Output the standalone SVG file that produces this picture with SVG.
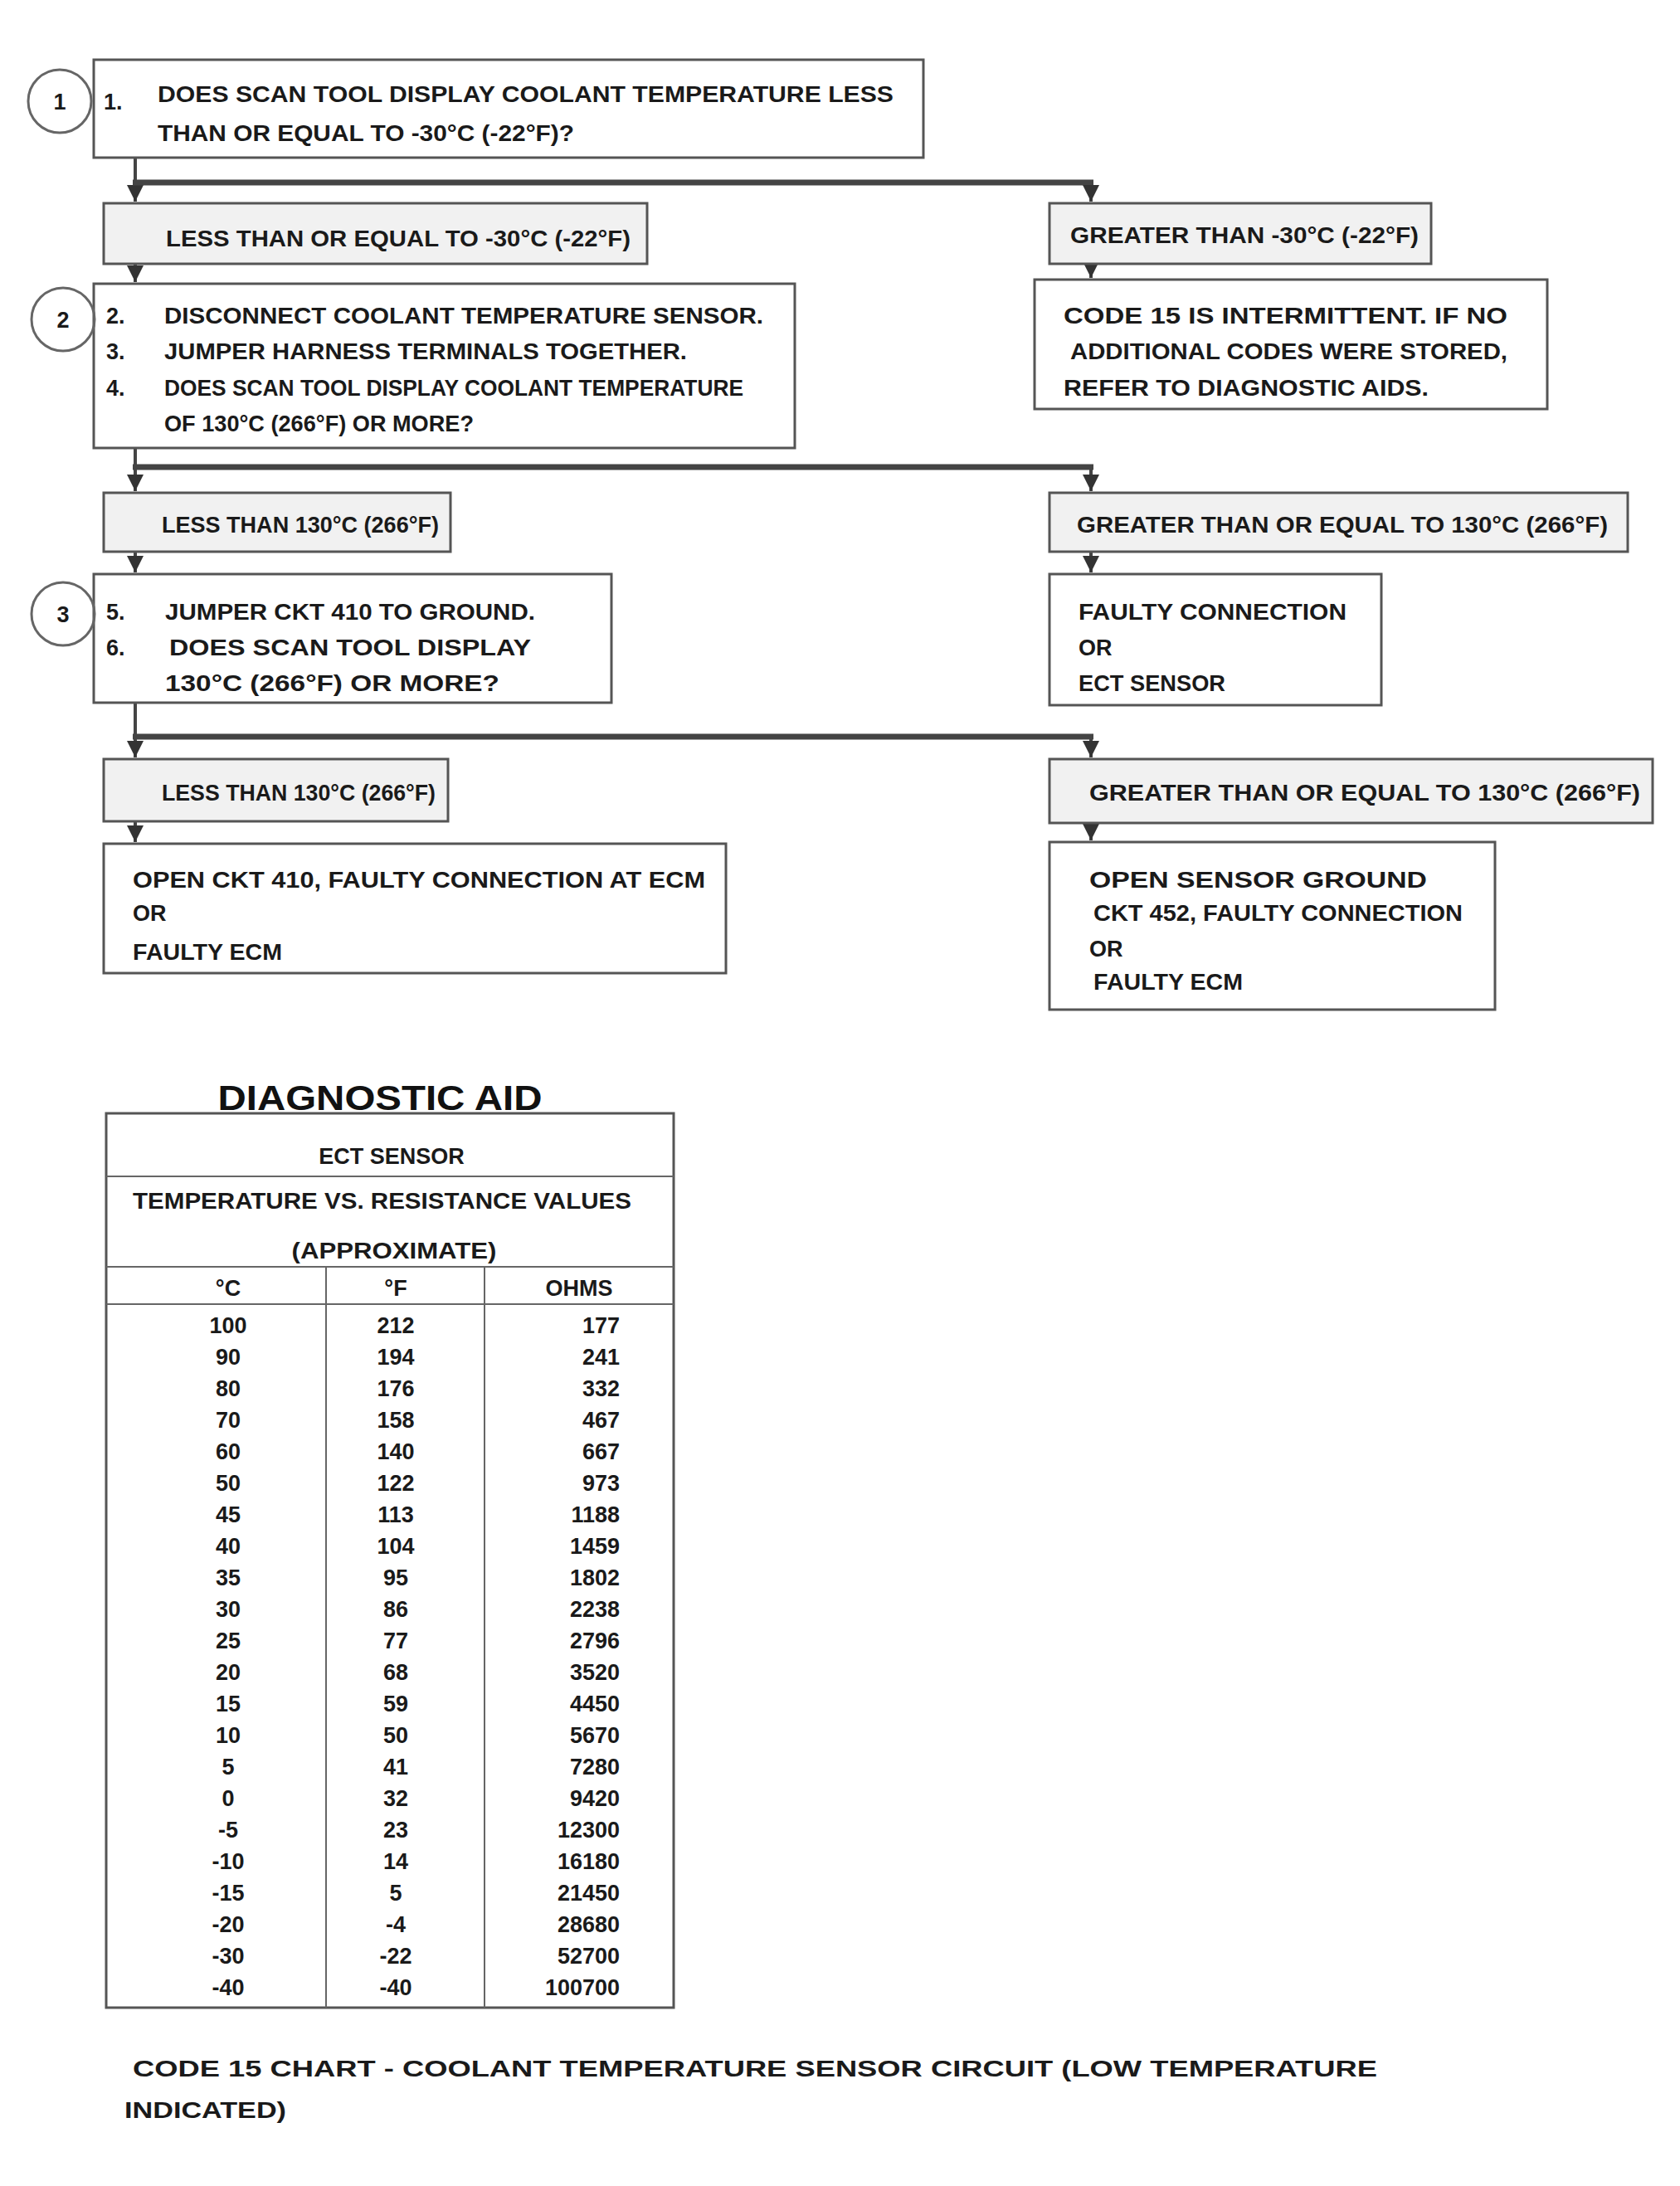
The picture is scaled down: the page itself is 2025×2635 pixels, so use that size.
<svg xmlns="http://www.w3.org/2000/svg" width="2025" height="2635" viewBox="0 0 2025 2635">
<defs>
<style>
.t{font-family:"Liberation Sans",Arial,sans-serif;font-size:27px;font-weight:bold;fill:#1a1a1a}
.ttl{font-family:"Liberation Sans",Arial,sans-serif;font-size:42px;font-weight:bold;fill:#111}
.box{fill:#fff;stroke:#555;stroke-width:3}
.lbl{fill:#f1f1f1;stroke:#555;stroke-width:3}
.circ{fill:none;stroke:#666;stroke-width:3}
.bar{fill:none;stroke:#444;stroke-width:7}
.lnk{fill:none;stroke:#444;stroke-width:4}
.tb{fill:#fff;stroke:#555;stroke-width:3}
.tl{stroke:#666;stroke-width:2}
.m{text-anchor:middle}
.e{text-anchor:end}
</style>
<marker id="ah" markerUnits="userSpaceOnUse" markerWidth="24" markerHeight="24" viewBox="0 0 24 24" refX="22" refY="12" orient="auto">
<path d="M2,2 L22,12 L2,22 Z" fill="#333"/>
</marker>
</defs>
<rect width="2025" height="2635" fill="#fff"/>

<g id="connectors">
<path class="lnk" d="M163,190 V243" marker-end="url(#ah)"/>
<path class="bar" d="M160,220 H1318"/>
<path class="lnk" d="M1315,220 V243" marker-end="url(#ah)"/>
<path class="lnk" d="M163,318 V340" marker-end="url(#ah)"/>
<path class="lnk" d="M1315,318 V335" marker-end="url(#ah)"/>

<path class="lnk" d="M163,540 V592" marker-end="url(#ah)"/>
<path class="bar" d="M160,563 H1318"/>
<path class="lnk" d="M1315,563 V592" marker-end="url(#ah)"/>
<path class="lnk" d="M163,665 V690" marker-end="url(#ah)"/>
<path class="lnk" d="M1315,665 V690" marker-end="url(#ah)"/>

<path class="lnk" d="M163,847 V913" marker-end="url(#ah)"/>
<path class="bar" d="M160,888 H1318"/>
<path class="lnk" d="M1315,888 V913" marker-end="url(#ah)"/>
<path class="lnk" d="M163,990 V1015" marker-end="url(#ah)"/>
<path class="lnk" d="M1315,992 V1013" marker-end="url(#ah)"/>
</g>

<g id="step1">
<rect class="box" x="113" y="72" width="1000" height="118"/>
<circle class="circ" cx="72" cy="122" r="38"/>
<text class="t m" x="72" y="132">1</text>
<text class="t" x="125" y="132">1.</text>
<text class="t" x="190" y="123" textLength="887" lengthAdjust="spacingAndGlyphs">DOES SCAN TOOL DISPLAY COOLANT TEMPERATURE LESS</text>
<text class="t" x="190" y="170" textLength="502" lengthAdjust="spacingAndGlyphs">THAN OR EQUAL TO -30°C (-22°F)?</text>
</g>

<g id="label-1-left">
<rect class="lbl" x="125" y="245" width="655" height="73"/>
<text class="t" x="200" y="297" textLength="560" lengthAdjust="spacingAndGlyphs">LESS THAN OR EQUAL TO -30°C (-22°F)</text>
</g>
<g id="label-1-right">
<rect class="lbl" x="1265" y="245" width="460" height="73"/>
<text class="t" x="1290" y="293" textLength="420" lengthAdjust="spacingAndGlyphs">GREATER THAN -30°C (-22°F)</text>
</g>
<g id="result-1-right">
<rect class="box" x="1247" y="337" width="618" height="156"/>
<text class="t" x="1282" y="390" textLength="535" lengthAdjust="spacingAndGlyphs">CODE 15 IS INTERMITTENT. IF NO</text>
<text class="t" x="1290" y="433" textLength="527" lengthAdjust="spacingAndGlyphs">ADDITIONAL CODES WERE STORED,</text>
<text class="t" x="1282" y="477" textLength="440" lengthAdjust="spacingAndGlyphs">REFER TO DIAGNOSTIC AIDS.</text>
</g>

<g id="step2">
<rect class="box" x="113" y="342" width="845" height="198"/>
<circle class="circ" cx="76" cy="385" r="38"/>
<text class="t m" x="76" y="395">2</text>
<text class="t" x="128" y="390">2.</text>
<text class="t" x="128" y="433">3.</text>
<text class="t" x="128" y="477">4.</text>
<text class="t" x="198" y="390" textLength="722" lengthAdjust="spacingAndGlyphs">DISCONNECT COOLANT TEMPERATURE SENSOR.</text>
<text class="t" x="198" y="433" textLength="630" lengthAdjust="spacingAndGlyphs">JUMPER HARNESS TERMINALS TOGETHER.</text>
<text class="t" x="198" y="477" textLength="698" lengthAdjust="spacingAndGlyphs">DOES SCAN TOOL DISPLAY COOLANT TEMPERATURE</text>
<text class="t" x="198" y="520" textLength="373" lengthAdjust="spacingAndGlyphs">OF 130°C (266°F) OR MORE?</text>
</g>

<g id="label-2-left">
<rect class="lbl" x="125" y="594" width="418" height="71"/>
<text class="t" x="195" y="642" textLength="334" lengthAdjust="spacingAndGlyphs">LESS THAN 130°C (266°F)</text>
</g>
<g id="label-2-right">
<rect class="lbl" x="1265" y="594" width="697" height="71"/>
<text class="t" x="1298" y="642" textLength="640" lengthAdjust="spacingAndGlyphs">GREATER THAN OR EQUAL TO 130°C (266°F)</text>
</g>
<g id="result-2-right">
<rect class="box" x="1265" y="692" width="400" height="158"/>
<text class="t" x="1300" y="747" textLength="323" lengthAdjust="spacingAndGlyphs">FAULTY CONNECTION</text>
<text class="t" x="1300" y="790">OR</text>
<text class="t" x="1300" y="833" textLength="177" lengthAdjust="spacingAndGlyphs">ECT SENSOR</text>
</g>

<g id="step3">
<rect class="box" x="113" y="692" width="624" height="155"/>
<circle class="circ" cx="76" cy="740" r="38"/>
<text class="t m" x="76" y="750">3</text>
<text class="t" x="128" y="747">5.</text>
<text class="t" x="128" y="790">6.</text>
<text class="t" x="199" y="747" textLength="446" lengthAdjust="spacingAndGlyphs">JUMPER CKT 410 TO GROUND.</text>
<text class="t" x="204" y="790" textLength="436" lengthAdjust="spacingAndGlyphs">DOES SCAN TOOL DISPLAY</text>
<text class="t" x="199" y="833" textLength="403" lengthAdjust="spacingAndGlyphs">130°C (266°F) OR MORE?</text>
</g>

<g id="label-3-left">
<rect class="lbl" x="125" y="915" width="415" height="75"/>
<text class="t" x="195" y="965" textLength="330" lengthAdjust="spacingAndGlyphs">LESS THAN 130°C (266°F)</text>
</g>
<g id="label-3-right">
<rect class="lbl" x="1265" y="915" width="727" height="77"/>
<text class="t" x="1313" y="965" textLength="664" lengthAdjust="spacingAndGlyphs">GREATER THAN OR EQUAL TO 130°C (266°F)</text>
</g>
<g id="result-3-left">
<rect class="box" x="125" y="1017" width="750" height="156"/>
<text class="t" x="160" y="1070" textLength="690" lengthAdjust="spacingAndGlyphs">OPEN CKT 410, FAULTY CONNECTION AT ECM</text>
<text class="t" x="160" y="1110">OR</text>
<text class="t" x="160" y="1157" textLength="180" lengthAdjust="spacingAndGlyphs">FAULTY ECM</text>
</g>
<g id="result-3-right">
<rect class="box" x="1265" y="1015" width="537" height="202"/>
<text class="t" x="1313" y="1070" textLength="407" lengthAdjust="spacingAndGlyphs">OPEN SENSOR GROUND</text>
<text class="t" x="1318" y="1110" textLength="445" lengthAdjust="spacingAndGlyphs">CKT 452, FAULTY CONNECTION</text>
<text class="t" x="1313" y="1153">OR</text>
<text class="t" x="1318" y="1193" textLength="180" lengthAdjust="spacingAndGlyphs">FAULTY ECM</text>
</g>

<g id="diagnostic-aid">
<text class="ttl m" x="458" y="1338" textLength="391" lengthAdjust="spacingAndGlyphs">DIAGNOSTIC AID</text>
<rect class="tb" x="128" y="1342" width="684" height="1078"/>
<line class="tl" x1="128" y1="1418" x2="812" y2="1418"/>
<line class="tl" x1="128" y1="1527" x2="812" y2="1527"/>
<line class="tl" x1="128" y1="1572" x2="812" y2="1572"/>
<line class="tl" x1="393" y1="1527" x2="393" y2="2420"/>
<line class="tl" x1="584" y1="1527" x2="584" y2="2420"/>
<text class="t m" x="472" y="1403">ECT SENSOR</text>
<text class="t" x="160" y="1457" textLength="601" lengthAdjust="spacingAndGlyphs">TEMPERATURE VS. RESISTANCE VALUES</text>
<text class="t m" x="475" y="1517" textLength="247" lengthAdjust="spacingAndGlyphs">(APPROXIMATE)</text>
<text class="t m" x="275" y="1562">°C</text>
<text class="t m" x="477" y="1562">°F</text>
<text class="t m" x="698" y="1562">OHMS</text>
<g class="t m">
<text x="275" y="1607">100</text><text x="477" y="1607">212</text>
<text x="275" y="1645">90</text><text x="477" y="1645">194</text>
<text x="275" y="1683">80</text><text x="477" y="1683">176</text>
<text x="275" y="1721">70</text><text x="477" y="1721">158</text>
<text x="275" y="1759">60</text><text x="477" y="1759">140</text>
<text x="275" y="1797">50</text><text x="477" y="1797">122</text>
<text x="275" y="1835">45</text><text x="477" y="1835">113</text>
<text x="275" y="1873">40</text><text x="477" y="1873">104</text>
<text x="275" y="1911">35</text><text x="477" y="1911">95</text>
<text x="275" y="1949">30</text><text x="477" y="1949">86</text>
<text x="275" y="1987">25</text><text x="477" y="1987">77</text>
<text x="275" y="2025">20</text><text x="477" y="2025">68</text>
<text x="275" y="2063">15</text><text x="477" y="2063">59</text>
<text x="275" y="2101">10</text><text x="477" y="2101">50</text>
<text x="275" y="2139">5</text><text x="477" y="2139">41</text>
<text x="275" y="2177">0</text><text x="477" y="2177">32</text>
<text x="275" y="2215">-5</text><text x="477" y="2215">23</text>
<text x="275" y="2253">-10</text><text x="477" y="2253">14</text>
<text x="275" y="2291">-15</text><text x="477" y="2291">5</text>
<text x="275" y="2329">-20</text><text x="477" y="2329">-4</text>
<text x="275" y="2367">-30</text><text x="477" y="2367">-22</text>
<text x="275" y="2405">-40</text><text x="477" y="2405">-40</text>
</g>
<g class="t e">
<text x="747" y="1607">177</text>
<text x="747" y="1645">241</text>
<text x="747" y="1683">332</text>
<text x="747" y="1721">467</text>
<text x="747" y="1759">667</text>
<text x="747" y="1797">973</text>
<text x="747" y="1835">1188</text>
<text x="747" y="1873">1459</text>
<text x="747" y="1911">1802</text>
<text x="747" y="1949">2238</text>
<text x="747" y="1987">2796</text>
<text x="747" y="2025">3520</text>
<text x="747" y="2063">4450</text>
<text x="747" y="2101">5670</text>
<text x="747" y="2139">7280</text>
<text x="747" y="2177">9420</text>
<text x="747" y="2215">12300</text>
<text x="747" y="2253">16180</text>
<text x="747" y="2291">21450</text>
<text x="747" y="2329">28680</text>
<text x="747" y="2367">52700</text>
<text x="747" y="2405">100700</text>
</g>
</g>

<g id="footnote">
<text class="t" x="160" y="2503" textLength="1500" lengthAdjust="spacingAndGlyphs">CODE 15 CHART - COOLANT TEMPERATURE SENSOR CIRCUIT (LOW TEMPERATURE</text>
<text class="t" x="150" y="2553" textLength="195" lengthAdjust="spacingAndGlyphs">INDICATED)</text>
</g>
</svg>
